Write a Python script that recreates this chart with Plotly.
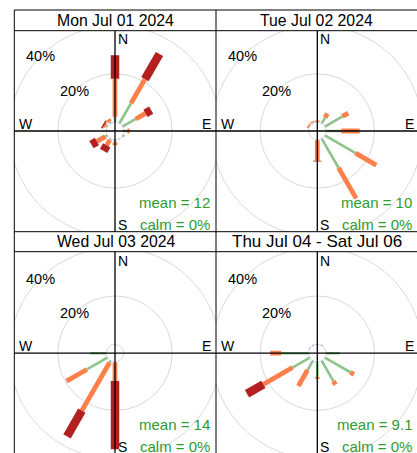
import numpy as np
import plotly.graph_objects as go

W, H = 417, 453

# ---------------- data ----------------
directions = [0, 30, 60, 90, 120, 150, 180, 210, 240, 270, 300, 330]
speed_bins = ["0 to 2", "2 to 4", "4 to 6", "6 to 20.2"]
bin_colors = ["#7566dc", "#8cc48c", "#ff7f4a", "#b2201f"]
bin_widths = [1.8, 2.6, 4.8, 8.5]

panel_titles = ["Mon Jul 01 2024", "Tue Jul 02 2024", "Wed Jul 03 2024", "Thu Jul 04 - Sat Jul 06"]
panel_means = ["12", "10", "14", "9.1"]
panel_calm = ["0%", "0%", "0%", "0%"]

mon_b1 = [0.3, 0.3, 0.3, 0.2, 0.2, 0.1, 0.2, 0.2, 0.2, 0.1, 0.2, 0.2]
mon_b2 = [1.9, 9.3, 6.0, 1.3, 0.6, 0.2, 0.9, 0.4, 0.8, 0.0, 0.4, 0.5]
mon_b3 = [15.8, 11.5, 4.6, 0.9, 0.0, 0.0, 1.1, 2.6, 4.0, 0.0, 0.7, 1.2]
mon_b4 = [9.7, 12.0, 2.7, 0.0, 0.0, 0.0, 0.0, 2.6, 2.6, 0.0, 0.7, 0.0]

tue_b1 = [0.1, 0.2, 0.2, 0.2, 0.2, 0.2, 0.1, 0.0, 0.0, 0.0, 0.1, 0.1]
tue_b2 = [0.1, 2.6, 8.2, 6.1, 14.4, 13.7, 0.1, 0.0, 0.0, 0.0, 0.1, 0.2]
tue_b3 = [0.5, 1.9, 2.7, 7.6, 9.9, 14.6, 8.5, 0.0, 0.0, 0.0, 0.6, 0.5]
tue_b4 = [0.0, 0.0, 0.0, 0.0, 0.0, 0.0, 0.3, 0.0, 0.0, 0.0, 0.0, 0.0]

wed_b1 = [0.0, 0.0, 0.0, 0.0, 0.0, 0.0, 0.1, 0.2, 0.2, 0.2, 0.0, 0.0]
wed_b2 = [0.0, 0.0, 0.0, 0.0, 0.0, 0.0, 0.1, 0.6, 9.6, 6.4, 0.0, 0.0]
wed_b3 = [0.0, 0.0, 0.0, 0.0, 0.0, 0.0, 7.6, 23.0, 9.7, 0.0, 0.0, 0.0]
wed_b4 = [0.0, 0.0, 0.0, 0.0, 0.0, 0.0, 28.2, 12.2, 0.0, 0.0, 0.0, 0.0]

thu_b1 = [0.3, 0.3, 0.0, 0.2, 0.2, 0.3, 0.2, 0.3, 0.2, 0.2, 0.3, 0.3]
thu_b2 = [0.0, 0.0, 0.0, 5.4, 11.9, 9.4, 6.1, 4.1, 8.0, 11.1, 0.0, 0.0]
thu_b3 = [0.0, 0.0, 0.0, 0.0, 1.7, 1.7, 0.7, 7.6, 13.9, 4.5, 0.0, 0.0]
thu_b4 = [0.0, 0.0, 0.0, 0.0, 0.0, 0.0, 0.0, 0.0, 7.8, 0.0, 0.0, 0.0]

panel_data = [
    [mon_b1, mon_b2, mon_b3, mon_b4],
    [tue_b1, tue_b2, tue_b3, tue_b4],
    [wed_b1, wed_b2, wed_b3, wed_b4],
    [thu_b1, thu_b2, thu_b3, thu_b4],
]

grid_step = 20
grid_max = 40
offset = 3.64          # size of the central hole (10% of max frequency)

# ---------------- layout geometry (pixels) ----------------
SCALE = 2.42  # px per percent
# x0, x1, y0(top), y1(bottom), cx, cy
panels_px = [
    (14.3, 216.0, 30.7, 231.7, 115.0, 131.0),
    (216.0, 417.0, 30.7, 231.7, 317.3, 131.0),
    (14.3, 216.0, 251.7, 453.0, 115.0, 353.2),
    (216.0, 417.0, 251.7, 453.0, 317.3, 353.2),
]
strips_px = [(10.0, 30.7), (10.0, 30.7), (231.7, 251.7), (231.7, 251.7)]
title_sizes = [15.8, 15.8, 15.8, 17]

FONT = "Liberation Sans, Arial, sans-serif"

fig = go.Figure()
shapes = []
annotations = []

for p, (x0, x1, y0, y1, cx, cy) in enumerate(panels_px):
    ax = "" if p == 0 else str(p + 1)
    xref, yref = "x" + ax, "y" + ax
    xr = [(x0 - cx) / SCALE, (x1 - cx) / SCALE]
    yr = [(cy - y1) / SCALE, (cy - y0) / SCALE]
    common = dict(showgrid=False, zeroline=False, showticklabels=False,
                  showline=False, ticks="", fixedrange=True)
    fig.layout["xaxis" + ax] = dict(domain=[x0 / W, min(x1 / W, 1)], range=xr,
                                    anchor=yref, **common)
    fig.layout["yaxis" + ax] = dict(domain=[max(1 - y1 / H, 0), 1 - y0 / H], range=yr,
                                    anchor=xref, **common)

    # grid circles (hole, 20%, 40%)
    for rad in np.arange(offset, grid_max + offset + 0.01, grid_step):
        shapes.append(dict(type="circle", xref=xref, yref=yref,
                           x0=-rad, x1=rad, y0=-rad, y1=rad,
                           line=dict(color="#d9d9d9", width=1), layer="below"))

    # paddles
    bins = panel_data[p]
    cum = np.zeros(len(directions))
    for b, vals in enumerate(bins):
        vals = np.array(vals, dtype=float)
        xs, ys = [], []
        for d, th in enumerate(directions):
            if vals[d] <= 0:
                continue
            r0 = offset + cum[d]
            r1 = offset + cum[d] + vals[d]
            t = np.deg2rad(th)
            xs += [r0 * np.sin(t), r1 * np.sin(t), None]
            ys += [r0 * np.cos(t), r1 * np.cos(t), None]
        cum += vals
        fig.add_trace(go.Scatter(x=xs, y=ys, mode="lines", xaxis=xref, yaxis=yref,
                                 line=dict(color=bin_colors[b], width=bin_widths[b]),
                                 name=speed_bins[b], showlegend=False, hoverinfo="skip"))

    # cross lines
    big = 60
    shapes.append(dict(type="line", xref=xref, yref=yref, x0=-big, x1=big, y0=0, y1=0,
                       line=dict(color="black", width=1.3), layer="above"))
    shapes.append(dict(type="line", xref=xref, yref=yref, x0=0, x1=0, y0=-big, y1=big,
                       line=dict(color="black", width=1.3), layer="above"))

    lab = dict(xref=xref, yref=yref, showarrow=False,
               font=dict(family=FONT, size=14, color="black"))
    annotations.append(dict(text="N", x=0, y=37.9, xanchor="left", yanchor="middle", xshift=1, **lab))
    annotations.append(dict(text="S", x=0, y=-38.8, xanchor="left", yanchor="middle", xshift=1, **lab))
    annotations.append(dict(text="E", x=40.6, y=0, xanchor="right", yanchor="bottom", yshift=-3, **lab))
    annotations.append(dict(text="W", x=-40.6, y=0, xanchor="left", yanchor="bottom", yshift=-3, **lab))

    for g in range(grid_step, grid_max + 1, grid_step):
        rr = g + offset
        annotations.append(dict(text=f"{g}%", x=-rr * np.sin(np.pi / 4), y=rr * np.cos(np.pi / 4),
                                xanchor="center", yanchor="middle",
                                xref=xref, yref=yref, showarrow=False,
                                font=dict(family=FONT, size=14.5, color="black")))

    green = dict(xref=xref, yref=yref, showarrow=False, xanchor="right", yanchor="middle",
                 font=dict(family=FONT, size=15, color="#2f9b2f"))
    mx = (x1 - 4.5 - cx) / SCALE if p % 2 == 0 else (x1 - 3 - cx) / SCALE
    annotations.append(dict(text=f"mean = {panel_means[p]}", x=mx,
                            y=-(202.3 - 131) / SCALE, **green))
    annotations.append(dict(text=f"calm = {panel_calm[p]}", x=mx,
                            y=-(224 - 131) / SCALE, **green))

    # strip title
    sy0, sy1 = strips_px[p]
    annotations.append(dict(text=panel_titles[p], xref="paper", yref="paper",
                            x=(x0 + min(x1 + 0.7, 417.7)) / 2 / W, y=1 - (sy0 + sy1) / 2 / H,
                            xanchor="center", yanchor="middle", showarrow=False,
                            font=dict(family=FONT, size=title_sizes[p], color="black")))

# frame lines (paper coordinates)
def hline(ypx):
    shapes.append(dict(type="line", xref="paper", yref="paper", x0=14.3 / W, x1=1.0,
                       y0=1 - ypx / H, y1=1 - ypx / H, line=dict(color="black", width=1), layer="above"))

def vline(xpx):
    shapes.append(dict(type="line", xref="paper", yref="paper", x0=xpx / W, x1=xpx / W,
                       y0=0, y1=1 - 10 / H, line=dict(color="black", width=1), layer="above"))

for ypx in [10.0, 30.7, 231.7, 251.7]:
    hline(ypx)
for xpx in [14.3, 216.0]:
    vline(xpx)

fig.update_layout(width=W, height=H, margin=dict(l=0, r=0, t=0, b=0),
                  paper_bgcolor="white", plot_bgcolor="rgba(0,0,0,0)",
                  shapes=shapes, annotations=annotations, showlegend=False,
                  font=dict(family=FONT))
fig.write_html("out.html", config={"displayModeBar": False},
               post_script="document.body.style.margin='0px';document.body.style.overflow='hidden';")
